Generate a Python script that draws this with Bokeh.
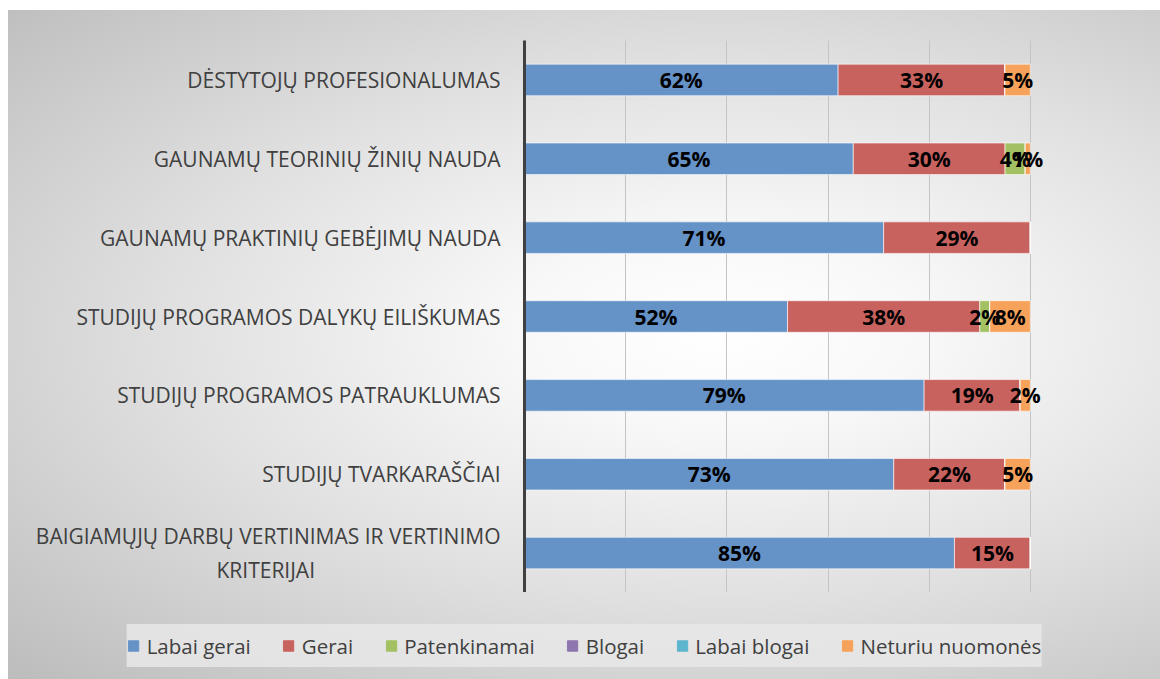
from bokeh.plotting import figure
from bokeh.layouts import column
from bokeh.models import Range1d, FactorRange, FixedTicker, Legend, LegendItem, ColumnDataSource
from bokeh.embed import file_html
from bokeh.resources import INLINE
from bokeh.core.properties import value

NB = "\u00a0"
categories = [
    "DĖSTYTOJŲ PROFESIONALUMAS",
    "GAUNAMŲ TEORINIŲ ŽINIŲ NAUDA",
    "GAUNAMŲ PRAKTINIŲ GEBĖJIMŲ NAUDA",
    "STUDIJŲ PROGRAMOS DALYKŲ EILIŠKUMAS",
    "STUDIJŲ PROGRAMOS PATRAUKLUMAS",
    "STUDIJŲ TVARKARAŠČIAI",
    "BAIGIAMŲJŲ DARBŲ VERTINIMAS IR VERTINIMO\nKRITERIJAI" + NB * 34,
]
series = ["Labai gerai", "Gerai", "Patenkinamai", "Blogai", "Labai blogai", "Neturiu nuomonės"]
labai_gerai = [62, 65, 71, 52, 79, 73, 85]
gerai = [33, 30, 29, 38, 19, 22, 15]
patenkinamai = [0, 4, 0, 2, 0, 0, 0]
blogai = [0, 0, 0, 0, 0, 0, 0]
labai_blogai = [0, 0, 0, 0, 0, 0, 0]
neturiu = [5, 1, 0, 8, 2, 5, 0]
colors = ["#6592C7", "#C8625F", "#A3C162", "#8E75AE", "#5DB6CD", "#F7A25A"]
x_ticks = [0, 20, 40, 60, 80, 100, 120]

keys = ["s0", "s1", "s2", "s3", "s4", "s5"]
values_list = [labai_gerai, gerai, patenkinamai, blogai, labai_blogai, neturiu]
data = {"cat": categories}
for k, v in zip(keys, values_list):
    data[k] = v
source = ColumnDataSource(data)

p = figure(
    width=1152, height=582,
    y_range=FactorRange(*reversed(categories)),
    x_range=Range1d(0, 120),
    output_backend="svg", toolbar_location=None,
    min_border_left=516, min_border_right=29, min_border_top=30, min_border_bottom=0,
    border_fill_color=None, background_fill_color=None, outline_line_color=None,
)
p.frame_align = False

renderers = p.hbar_stack(keys, y="cat", height=0.4, color=colors, source=source,
                         line_color="white", line_alpha=0.6, line_width=1)

# data labels
lx, ly, lt = [], [], []
for i, cat in enumerate(categories):
    cum = 0
    for v in values_list:
        val = v[i]
        if val > 0:
            lx.append(cum + val / 2)
            ly.append(cat)
            lt.append(f"{val}%")
        cum += val
p.text(x=lx, y=ly, text=lt, text_align="center", text_baseline="middle",
       text_font=value("Open Sans"), text_font_style="bold", text_font_size="21px",
       text_color="black")

p.xaxis.visible = False
p.xgrid.ticker = FixedTicker(ticks=x_ticks)
p.xgrid.grid_line_color = "#c4c4c4"
p.xgrid.grid_line_width = 1
p.ygrid.grid_line_color = None

ax = p.yaxis[0]
ax.axis_line_color = "#404040"
ax.axis_line_width = 3
ax.major_tick_line_color = None
ax.minor_tick_line_color = None
ax.major_label_text_font = "Open Sans"
ax.major_label_text_font_size = "21px"
ax.major_label_text_color = "#404040"
ax.major_label_standoff = 18

# legend strip
p2 = figure(
    width=1152, height=87, x_range=Range1d(0, 1), y_range=Range1d(0, 1),
    output_backend="svg", toolbar_location=None,
    min_border_left=0, min_border_right=0, min_border_top=0, min_border_bottom=0,
    border_fill_color=None, background_fill_color=None, outline_line_color=None,
)
p2.frame_align = False
p2.axis.visible = False
p2.grid.visible = False
leg_renderers = [p2.hbar(y=[-5], left=[0], right=[1], height=0.5, color=c) for c in colors]
legend = Legend(
    items=[LegendItem(label=s, renderers=[r]) for s, r in zip(series, leg_renderers)],
    orientation="horizontal",
    location="bottom_center", margin=12,
    label_text_font="Open Sans", label_text_font_size="20.5px", label_text_color="#404040",
    glyph_width=13, glyph_height=13, label_standoff=7, spacing=31,
    label_height=43, padding=1,
    background_fill_color="#e8e8e8", background_fill_alpha=0.85,
    border_line_color=None,
)
p2.add_layout(legend, "center")

layout = column(p, p2, spacing=0, styles={
    "margin-left": "8px", "margin-top": "10px",
    "background": "radial-gradient(ellipse farthest-corner at 62% 48%, #ffffff 0%, #f8f8f8 20%, #e0e0e0 55%, #bcbcbc 100%)",
})

open("out.html", "w").write(file_html(layout, INLINE))
